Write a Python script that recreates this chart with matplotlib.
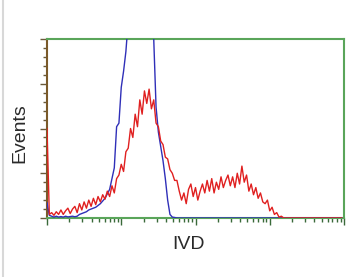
import numpy as np
import matplotlib
matplotlib.use("Agg")
import matplotlib.pyplot as plt
from matplotlib.ticker import LogLocator, MultipleLocator, NullFormatter

# channels: 32 per decade, 4 decades (1 .. 10^4)
channels_per_decade = 32

red_counts = [
    50, 2, 3, 1.5, 3.5, 2, 4.5, 2, 4, 5.5,
    2.5, 5, 6.5, 3, 8, 4.5, 9, 5.5, 10, 6.5,
    11, 7.5, 12, 9, 13, 10.5, 15, 12, 18, 14,
    22, 24, 30, 26, 37, 39, 50, 45, 58, 51,
    66, 58, 71, 64, 72, 61, 66, 53, 51, 43,
    41, 34, 33, 27, 25, 21, 21, 15, 10, 14,
    8, 16, 19, 12, 17, 10, 15, 19, 14, 21,
    15, 22, 14, 20, 16, 23, 17, 21, 24, 18,
    23, 17, 25, 19, 29, 20, 24, 15, 19, 13,
    17, 11, 14, 9, 8, 10, 4, 6, 2, 3,
    0.5, 1, 0, 0, 0, 0, 0, 0, 0, 0,
    0, 0, 0, 0, 0, 0, 0, 0, 0, 0,
    0, 0, 0, 0, 0, 0, 0, 0,
]

blue_counts = [
    8.5, 1.5, 1, 0.5, 1, 0.5, 0.8, 0.5, 1, 0.6,
    0.8, 1, 0.7, 1, 2, 2.5, 3, 3.5, 4.5, 5,
    5.5, 6, 7, 8, 9.5, 11, 13.5, 16, 22, 28,
    51, 53, 73, 82, 93, 110, 130, 160, 185, 200,
    210, 205, 190, 170, 150, 120, 100, 62, 48, 40,
    32, 22, 10, 2, 0.5, 0.3, 0, 0, 0, 0,
    0, 0, 0, 0, 0, 0, 0, 0, 0, 0,
    0, 0, 0, 0, 0, 0, 0, 0, 0, 0,
    0, 0, 0, 0, 0, 0, 0, 0, 0, 0,
    0, 0, 0, 0, 0, 0, 0, 0, 0, 0,
    0, 0, 0, 0, 0, 0, 0, 0, 0, 0,
    0, 0, 0, 0, 0, 0, 0, 0, 0, 0,
    0, 0, 0, 0, 0, 0, 0, 0,
]

x_label = "IVD"
y_label = "Events"

n = len(red_counts)
x_vals = 10 ** (np.arange(n) / channels_per_decade)

fig = plt.figure(figsize=(3.61, 2.77), dpi=100)
ax = fig.add_axes([47 / 361, 1 - 218 / 277, (344 - 47) / 361, (218 - 39) / 277])

ax.plot(x_vals, blue_counts, color="#2f2fb8", lw=1.0, zorder=3)
ax.plot(x_vals, red_counts, color="#e02020", lw=1.0, zorder=4)

ax.set_xscale("log")
ax.set_xlim(1, 1e4)
ax.set_ylim(0, 100)

green = "#5aa55a"
for s in ["top", "right", "bottom"]:
    ax.spines[s].set_color(green)
    ax.spines[s].set_linewidth(1.5)
ax.spines["left"].set_color("#7a5a2a")
ax.spines["left"].set_linewidth(1.5)

ax.xaxis.set_major_locator(LogLocator(base=10, numticks=10))
ax.xaxis.set_minor_locator(LogLocator(base=10, subs=np.arange(2, 10), numticks=20))
ax.xaxis.set_major_formatter(NullFormatter())
ax.xaxis.set_minor_formatter(NullFormatter())
ax.yaxis.set_major_locator(MultipleLocator(25))
ax.yaxis.set_minor_locator(MultipleLocator(5))
ax.yaxis.set_major_formatter(NullFormatter())

ax.tick_params(axis="x", which="major", direction="out", length=5, width=1, color="#3a6a3a")
ax.tick_params(axis="x", which="minor", direction="out", length=3, width=1, color="#3a6a3a")
ax.tick_params(axis="y", which="major", direction="out", length=5, width=1, color="#6a5a3a")
ax.tick_params(axis="y", which="minor", direction="out", length=3, width=1, color="#6a5a3a")

fig.text(20 / 361, 1 - 133 / 277, y_label, rotation=90, ha="center", va="center",
         fontsize=14, family="Liberation Sans", color="#2a2a2a")
fig.text(189 / 361, 1 - 244.5 / 277, x_label, ha="center", va="center",
         fontsize=14, family="Liberation Sans", color="#2a2a2a")

fig.add_artist(plt.Line2D([3.5 / 361, 3.5 / 361], [0, 1], color="#d8d8d8", lw=1.5))

fig.savefig("out.png", dpi=100)
